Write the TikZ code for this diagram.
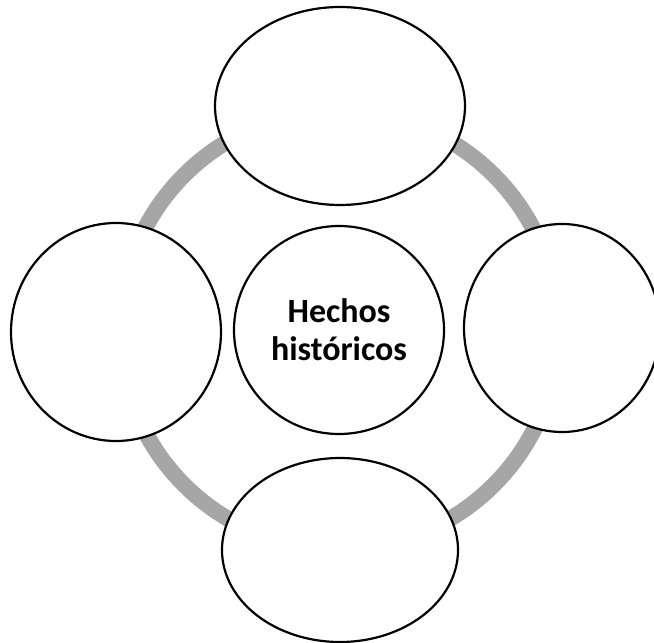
\documentclass[tikz,border=0pt]{standalone}
\usepackage{fontspec}
\setmainfont{Carlito}
\usetikzlibrary{shapes.geometric}
\definecolor{ringgray}{HTML}{A6A6A6}
\begin{document}
\begin{tikzpicture}[x=1pt,y=-1pt,
  bubble/.style={ellipse, draw=black, line width=2.2pt, fill=white, inner sep=0pt},
  ringline/.style={draw=ringgray, line width=16pt}]
\useasboundingbox (0,0) rectangle (654,643);
\clip (0,0) rectangle (654,643);
\coordinate (hub) at (339,330);
\draw[ringline] (hub) circle[radius=219];
\node[bubble, minimum width=250pt, minimum height=198pt] (top) at (340,106) {};
\node[bubble, minimum width=210pt, minimum height=218pt] (left) at (116,332) {};
\node[bubble, minimum width=196pt, minimum height=208pt] (right) at (562,328) {};
\node[bubble, minimum width=236pt, minimum height=184pt] (bottom) at (340,550) {};
\node[bubble, minimum width=210pt, minimum height=208pt, align=center,
  font=\bfseries\fontsize{34pt}{38pt}\selectfont] (center) at (339,330) {Hechos\\históricos};
\end{tikzpicture}
\end{document}
